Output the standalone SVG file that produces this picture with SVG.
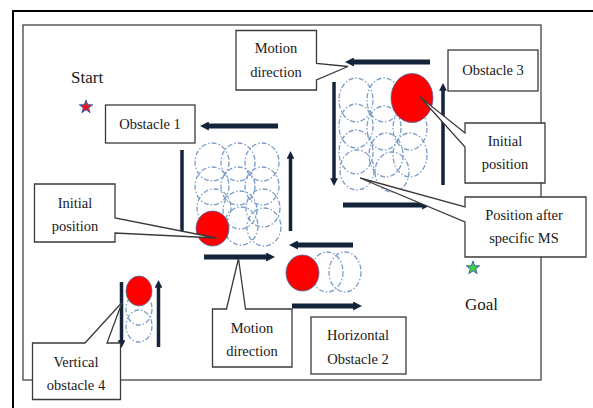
<svg xmlns="http://www.w3.org/2000/svg" width="593" height="408" viewBox="0 0 593 408">
<defs>
<style>
.box{fill:#fff;stroke:#3a3a3a;stroke-width:1.3}
text{font-family:'Liberation Serif','Times New Roman',serif;font-size:14.5px;fill:#1a1a1a;text-anchor:middle}
.big{font-size:17px;text-anchor:start}
.ghost{fill:none;stroke:#7b9dc6;stroke-width:1.3;stroke-dasharray:5 2 1.5 2}
.red{fill:#ff0000;stroke:#4a6fa5;stroke-width:0.8}
.h{stroke:#13233a;stroke-width:5;fill:none}
.v{stroke:#13233a;stroke-width:3.5;fill:none}
</style>
<marker id="ah" viewBox="0 0 10 10" refX="1" refY="5" markerWidth="1.8" markerHeight="1.8" orient="auto"><path d="M0,0 L10,5 L0,10 Z" fill="#13233a"/></marker>
<marker id="av" viewBox="0 0 10 10" refX="1" refY="5" markerWidth="2.2" markerHeight="2.2" orient="auto"><path d="M0,0 L10,5 L0,10 Z" fill="#13233a"/></marker>
<polygon id="star" points="0,-7 1.65,-2.27 6.66,-2.16 2.66,0.87 4.11,5.66 0,2.8 -4.11,5.66 -2.66,0.87 -6.66,-2.16 -1.65,-2.27" stroke="#3a63b0" stroke-width="1"/>
</defs>
<rect width="593" height="408" fill="#fff"/>
<rect x="13" y="11" width="600" height="420" fill="none" stroke="#000" stroke-width="2"/>
<rect x="23" y="25" width="518" height="355" fill="none" stroke="#444" stroke-width="1.3"/>

<g id="start">
<text class="big" x="71" y="83">Start</text>
<use href="#star" x="86" y="107" fill="#e8141c"/>
</g>
<g id="goal">
<use href="#star" x="473" y="268" fill="#3dd13d"/>
<text class="big" x="465" y="310">Goal</text>
</g>

<g id="obstacle1-motion">
<ellipse class="ghost" cx="212" cy="162" rx="17" ry="19"/>
<ellipse class="ghost" cx="238" cy="162" rx="17" ry="19"/>
<ellipse class="ghost" cx="262" cy="162" rx="17" ry="19"/>
<ellipse class="ghost" cx="212" cy="186" rx="17" ry="19"/>
<ellipse class="ghost" cx="238" cy="186" rx="17" ry="19"/>
<ellipse class="ghost" cx="262" cy="186" rx="17" ry="19"/>
<ellipse class="ghost" cx="214" cy="208" rx="17" ry="19"/>
<ellipse class="ghost" cx="240" cy="210" rx="17" ry="19"/>
<ellipse class="ghost" cx="263" cy="208" rx="17" ry="19"/>
<ellipse class="ghost" cx="241" cy="226" rx="17" ry="19"/>
<ellipse class="ghost" cx="264" cy="227" rx="17" ry="19"/>
<ellipse class="red" cx="212.5" cy="228.5" rx="16.5" ry="17.5"/>
</g>
<g id="obstacle2-motion">
<ellipse class="ghost" cx="345" cy="272" rx="16" ry="20"/>
<ellipse class="ghost" cx="327" cy="272" rx="16" ry="20"/>
<ellipse class="red" cx="302.5" cy="273" rx="16.5" ry="18"/>
</g>
<g id="obstacle3-motion">
<ellipse class="ghost" cx="356" cy="100" rx="17" ry="22"/>
<ellipse class="ghost" cx="384" cy="100" rx="17" ry="22"/>
<ellipse class="ghost" cx="356" cy="126" rx="17" ry="22"/>
<ellipse class="ghost" cx="384" cy="128" rx="17" ry="22"/>
<ellipse class="ghost" cx="410" cy="128" rx="17" ry="22"/>
<ellipse class="ghost" cx="356" cy="152" rx="17" ry="22"/>
<ellipse class="ghost" cx="386" cy="155" rx="17" ry="22"/>
<ellipse class="ghost" cx="410" cy="155" rx="17" ry="22"/>
<ellipse class="ghost" cx="357" cy="170" rx="17" ry="20"/>
<ellipse class="ghost" cx="392" cy="172" rx="17" ry="20"/>
<ellipse class="red" cx="412" cy="98" rx="21" ry="24.5"/>
</g>
<g id="obstacle4-motion">
<ellipse class="ghost" cx="139" cy="309" rx="13" ry="16"/>
<ellipse class="ghost" cx="139" cy="326" rx="13" ry="16"/>
<ellipse class="red" cx="139" cy="291" rx="13" ry="15"/>
</g>

<g id="connectors">
<line class="h" x1="278" y1="126" x2="208" y2="126" marker-end="url(#ah)"/>
<line class="v" x1="182" y1="150" x2="182" y2="232"/>
<line class="v" x1="290.5" y1="231" x2="290.5" y2="158" marker-end="url(#av)"/>
<line class="h" x1="204" y1="257" x2="267" y2="257" marker-end="url(#ah)"/>
<line class="h" x1="353" y1="245" x2="297" y2="245" marker-end="url(#ah)"/>
<line class="h" x1="292" y1="306" x2="354" y2="306" marker-end="url(#ah)"/>
<line class="h" x1="430" y1="62" x2="353" y2="62" marker-end="url(#ah)"/>
<line class="v" x1="334" y1="82" x2="334" y2="179" marker-end="url(#av)"/>
<line class="v" x1="443" y1="185" x2="443" y2="90" marker-end="url(#av)"/>
<line class="h" x1="343" y1="205" x2="423" y2="205" marker-end="url(#ah)"/>
<line class="v" x1="121.5" y1="282" x2="121.5" y2="341" marker-end="url(#av)"/>
<line class="v" x1="158.5" y1="347" x2="158.5" y2="287" marker-end="url(#av)"/>
</g>

<g id="labels">
<g id="label-obstacle1">
<rect class="box" x="105.5" y="105" width="89.5" height="38"/>
<text x="150" y="129">Obstacle 1</text>
</g>
<g id="label-obstacle3">
<rect class="box" x="448" y="50" width="90" height="41"/>
<text x="493" y="75">Obstacle 3</text>
</g>
<g id="label-motion-top">
<path class="box" d="M236,30.5 H316.5 V63.5 L348,66.5 L316.5,80 V90 H236 Z"/>
<text x="276" y="53">Motion</text>
<text x="276" y="77">direction</text>
</g>
<g id="label-initial-right">
<path class="box" d="M465,123 H545 V183 H465 V147 L420,97 L465,133 Z"/>
<text x="505" y="146">Initial</text>
<text x="505" y="169">position</text>
</g>
<g id="label-position-after">
<path class="box" d="M465,197 H586 V257 H465 V222 L360,178 L465,207 Z"/>
<text x="524" y="220">Position after</text>
<text x="524" y="243">specific MS</text>
</g>
<g id="label-initial-left">
<path class="box" d="M34.5,184 H115 V218 L216.5,238 L115,233 V242 H34.5 Z"/>
<text x="75" y="208">Initial</text>
<text x="75" y="231">position</text>
</g>
<g id="label-motion-bottom">
<path class="box" d="M212.5,309 H226.5 L238.5,258.5 L245.5,309 H292 V367 H212.5 Z"/>
<text x="252" y="333">Motion</text>
<text x="252" y="356">direction</text>
</g>
<g id="label-obstacle2">
<rect class="box" x="311" y="317" width="95" height="57"/>
<text x="358" y="340">Horizontal</text>
<text x="358" y="364">Obstacle 2</text>
</g>
<g id="label-obstacle4">
<path class="box" d="M32.5,343 H85 L122,302.5 L107,343 H120.5 V399.5 H32.5 Z"/>
<text x="76" y="367">Vertical</text>
<text x="76" y="390">obstacle 4</text>
</g>
</g>
</svg>
